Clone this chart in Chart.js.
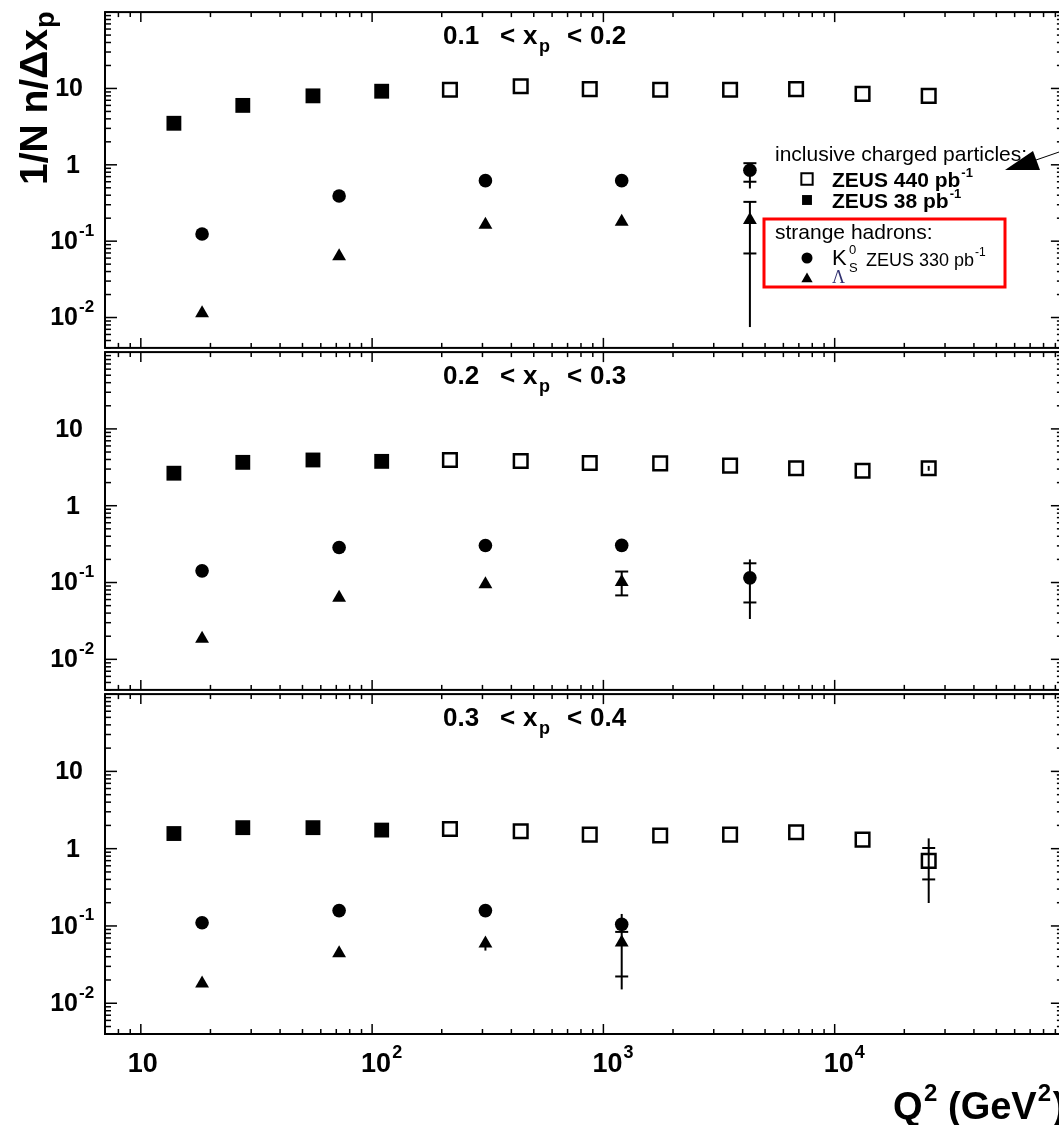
<!DOCTYPE html>
<html>
<head>
<meta charset="utf-8">
<script src="https://cdn.jsdelivr.net/npm/chart.js@4.4.1/dist/chart.umd.min.js"></script>
<style>
  html, body { margin: 0; padding: 0; background: #fff; overflow: hidden; }
  #wrap { position: relative; width: 1059px; height: 1125px; overflow: hidden; background: #fff; }
  canvas { position: absolute; left: 0; }
</style>
</head>
<body>
<div id="wrap">
  <canvas id="c1" width="1075" height="360" style="top:0px"></canvas>
  <canvas id="c2" width="1075" height="362" style="top:340px"></canvas>
  <canvas id="c3" width="1075" height="443" style="top:682px"></canvas>
</div>
<script>
// Q^2 bin centres in GeV^2
const q2Low = [13.9, 27.6, 55.5, 110];            // ZEUS 38 pb-1
const q2High = [217, 439, 873, 1760, 3530, 6810, 13200, 25500]; // ZEUS 440 pb-1
const q2Strange = [18.4, 72, 309, 1200, 4300];    // K0s / Lambda

// 0.1 < xp < 0.2
const chLow1 = [3.5, 6.0, 8.0, 9.2];
const chHigh1 = [9.6, 10.7, 9.8, 9.6, 9.6, 9.8, 8.5, 8.0];
const k0s1 = [0.124, 0.39, 0.62, 0.62, 0.85];
const lam1 = [0.0114, 0.0635, 0.164, 0.18, 0.19];

// 0.2 < xp < 0.3
const chLow2 = [2.65, 3.67, 3.94, 3.78];
const chHigh2 = [3.94, 3.83, 3.6, 3.56, 3.33, 3.08, 2.85, 3.08];
const k0s2 = [0.142, 0.286, 0.303, 0.305, 0.115];
const lam2 = [0.0186, 0.0635, 0.0948, 0.1017];

// 0.3 < xp < 0.4
const chLow3 = [1.57, 1.87, 1.87, 1.74];
const chHigh3 = [1.80, 1.68, 1.52, 1.48, 1.52, 1.63, 1.31, 0.695];
const k0s3 = [0.11, 0.158, 0.158, 0.105];
const lam3 = [0.018, 0.0442, 0.0593, 0.061];

// error bars: [totalLow, statLow, statHigh, totalHigh], caps at the stat ends
const k0sErr1 = [null, null, null, null, [0.49, 0.60, 1.05, 1.05]];
const lamErr1 = [null, null, null, [0.165, 0.18, 0.18, 0.2], [0.0075, 0.069, 0.327, 0.327]];
const highErr2 = [null, null, null, null, null, null, null, [2.85, 3.08, 3.08, 3.3]];
const k0sErr2 = [null, null, null, null, [0.0335, 0.055, 0.178, 0.2]];
const lamErr2 = [null, null, null, [0.068, 0.068, 0.139, 0.139]];
const highErr3 = [null, null, null, null, null, null, null, [0.198, 0.40, 1.02, 1.36]];
const lamErr3 = [null, null, [0.048, 0.0593, 0.0593, 0.0593], [0.0151, 0.0222, 0.0838, 0.143]];

// axis ranges and labelled ticks
const xMin = 7, xMax = 97000;
const yMin = 0.004, yMax = 100;
const xTickLabels = [[10, '10', ''], [100, '10', '2'], [1000, '10', '3'], [10000, '10', '4']];
const yTickLabels = [[10, '10', ''], [1, '1', ''], [0.1, '10', '-1'], [0.01, '10', '-2']];

const FONT = "'Liberation Sans', Arial, sans-serif";

function pts(xs, ys) {
  return ys.map((v, i) => ({x: xs[i], y: v}));
}

function logTicks(min, max) {
  let out = [];
  for (let d = Math.floor(Math.log10(min)); d <= Math.ceil(Math.log10(max)); d++) {
    for (let m = 1; m <= 9; m++) {
      let v = m * Math.pow(10, d);
      if (v >= min * 0.999 && v <= max * 1.001) out.push({v: v, major: m === 1});
    }
  }
  return out;
}

function line(ctx, x1, y1, x2, y2) {
  ctx.beginPath();
  ctx.moveTo(x1, y1);
  ctx.lineTo(x2, y2);
  ctx.stroke();
}

// text with an optional superscript, anchored by its right edge or centre
function supText(ctx, base, sup, x, y, size, supSize, align) {
  ctx.font = 'bold ' + size + 'px ' + FONT;
  let wb = ctx.measureText(base).width;
  let x0 = align === 'right' ? x - wb : x - wb / 2;
  ctx.textAlign = 'left';
  ctx.textBaseline = 'middle';
  ctx.fillText(base, x0, y);
  if (sup) {
    ctx.font = 'bold ' + supSize + 'px ' + FONT;
    ctx.fillText(sup, x0 + wb + 1, y - size * 0.45);
  }
}

function legendMark(ctx, style, r, x, y, filled) {
  ctx.save();
  ctx.fillStyle = filled ? '#000' : 'rgba(0,0,0,0)';
  ctx.strokeStyle = '#000';
  ctx.lineWidth = filled ? 0 : 2;
  Chart.helpers.drawPoint(ctx, {pointStyle: style, radius: r, borderWidth: filled ? 0 : 2, rotation: 0}, x, y);
  ctx.restore();
}

function drawLegend(ctx) {
  ctx.save();
  ctx.fillStyle = '#000';
  ctx.textAlign = 'left';
  ctx.textBaseline = 'alphabetic';
  ctx.font = '21px ' + FONT;
  ctx.fillText('inclusive charged particles:', 775, 161);
  legendMark(ctx, 'rect', 8, 807, 179, false);
  legendMark(ctx, 'rect', 7, 807, 200, true);
  ctx.font = 'bold 21px ' + FONT;
  ctx.fillText('ZEUS 440 pb', 832, 187);
  let w = ctx.measureText('ZEUS 440 pb').width;
  ctx.font = 'bold 13px ' + FONT;
  ctx.fillText('-1', 833 + w, 177);
  ctx.font = 'bold 21px ' + FONT;
  ctx.fillText('ZEUS 38 pb', 832, 208);
  w = ctx.measureText('ZEUS 38 pb').width;
  ctx.font = 'bold 13px ' + FONT;
  ctx.fillText('-1', 833 + w, 198);

  ctx.strokeStyle = '#ff0000';
  ctx.lineWidth = 3;
  ctx.strokeRect(764, 219, 241, 68);
  ctx.font = '21px ' + FONT;
  ctx.fillText('strange hadrons:', 775, 239);
  legendMark(ctx, 'circle', 5.5, 807, 258, true);
  legendMark(ctx, 'triangle', 6.5, 807, 279, true);
  ctx.font = '22px ' + FONT;
  ctx.fillText('K', 832, 265);
  ctx.font = '13px ' + FONT;
  ctx.fillText('0', 849, 254);
  ctx.fillText('S', 849, 272);
  ctx.font = '18px ' + FONT;
  ctx.fillText('ZEUS 330 pb', 866, 266);
  w = ctx.measureText('ZEUS 330 pb').width;
  ctx.font = '12px ' + FONT;
  ctx.fillText('-1', 867 + w, 256);
  ctx.fillStyle = '#303070';
  ctx.font = '18px ' + "'Liberation Serif', serif";
  ctx.fillText('\u039B', 832, 283);

  // arrow pointing into the legend
  ctx.fillStyle = '#000';
  ctx.strokeStyle = '#000';
  ctx.lineWidth = 1;
  line(ctx, 1036, 160, 1062, 151);
  ctx.beginPath();
  ctx.moveTo(1005, 170);
  ctx.lineTo(1040, 170);
  ctx.lineTo(1033, 151);
  ctx.closePath();
  ctx.fill();
  ctx.restore();
}

const rootFrame = {
  id: 'rootFrame',
  beforeDatasetsDraw(chart) {
    const ctx = chart.ctx, xs = chart.scales.x, ys = chart.scales.y;
    ctx.save();
    ctx.strokeStyle = '#000';
    ctx.lineWidth = 2;
    chart.data.datasets.forEach(ds => {
      if (!ds.errors) return;
      ds.errors.forEach((e, i) => {
        if (!e) return;
        const p = ds.data[i];
        const px = xs.getPixelForValue(p.x);
        line(ctx, px, ys.getPixelForValue(e[0]), px, ys.getPixelForValue(e[3]));
        [e[1], e[2]].forEach(v => {
          if (v === p.y) return;
          const py = ys.getPixelForValue(v);
          line(ctx, px - 6.5, py, px + 6.5, py);
        });
      });
    });
    ctx.restore();
  },
  afterDraw(chart, args, opts) {
    const ctx = chart.ctx, a = chart.chartArea;
    const xs = chart.scales.x, ys = chart.scales.y;
    ctx.save();
    ctx.strokeStyle = '#000';
    ctx.fillStyle = '#000';
    ctx.lineWidth = 1.5;
    logTicks(xMin, xMax).forEach(t => {
      const px = xs.getPixelForValue(t.v);
      const len = t.major ? 10 : 5;
      line(ctx, px, a.bottom, px, a.bottom - len);
      line(ctx, px, a.top, px, a.top + len);
    });
    logTicks(yMin, yMax).forEach(t => {
      const py = ys.getPixelForValue(t.v);
      const len = t.major ? 12 : 6;
      line(ctx, a.left, py, a.left + len, py);
      line(ctx, a.right, py, a.right - len, py);
    });
    ctx.lineWidth = 2;
    ctx.strokeRect(a.left, a.top, a.right - a.left, a.bottom - a.top);

    yTickLabels.forEach(t => {
      const py = ys.getPixelForValue(t[0]);
      const right = t[2] ? 78 : (t[1] === '1' ? 80 : 83);
      supText(ctx, t[1], t[2], right, py + 1, 25, 17, 'right');
    });

    if (opts.xLabels) {
      xTickLabels.forEach(t => {
        const px = xs.getPixelForValue(t[0]);
        supText(ctx, t[1], t[2], px + (t[2] ? 4 : 2), a.bottom + 31, 27, 18, 'center');
      });
      // axis title
      ctx.textAlign = 'left';
      ctx.textBaseline = 'alphabetic';
      ctx.font = 'bold 38px ' + FONT;
      ctx.fillText('Q', 893, a.bottom + 85);
      ctx.font = 'bold 24px ' + FONT;
      ctx.fillText('2', 924, a.bottom + 67);
      ctx.font = 'bold 38px ' + FONT;
      ctx.fillText('(GeV', 948, a.bottom + 85);
      let w = ctx.measureText('(GeV').width;
      ctx.font = 'bold 24px ' + FONT;
      ctx.fillText('2', 948 + w + 1, a.bottom + 67);
      ctx.font = 'bold 38px ' + FONT;
      ctx.fillText(')', 948 + w + 16, a.bottom + 85);
    }

    // bin title
    const ty = a.top + 25;
    ctx.textAlign = 'left';
    ctx.textBaseline = 'middle';
    ctx.font = 'bold 26px ' + FONT;
    ctx.fillText(opts.lo, 443, ty);
    ctx.fillText('<', 500, ty);
    ctx.fillText('x', 523, ty);
    ctx.fillText('<', 567, ty);
    ctx.fillText(opts.hi, 590, ty);
    ctx.font = 'bold 18px ' + FONT;
    ctx.fillText('p', 539, ty + 10);

    if (opts.yTitle) {
      ctx.save();
      ctx.translate(47, 185);
      ctx.rotate(-Math.PI / 2);
      ctx.textAlign = 'left';
      ctx.textBaseline = 'alphabetic';
      ctx.font = 'bold 39px ' + FONT;
      ctx.fillText('1/N n/\u0394x', 0, 0);
      const w = ctx.measureText('1/N n/\u0394x').width;
      ctx.font = 'bold 27px ' + FONT;
      ctx.fillText('p', w + 1, 7);
      ctx.restore();
    }
    if (opts.legend) drawLegend(ctx);
    ctx.restore();
  }
};

function makePanel(id, padTop, padBottom, sets, opts) {
  const datasets = [
    {data: pts(q2Low, sets.low), pointStyle: 'rect', pointRadius: 10.5,
     backgroundColor: '#000', borderColor: '#000', borderWidth: 0},
    {data: pts(q2High, sets.high), pointStyle: 'rect', pointRadius: 9.6,
     backgroundColor: 'rgba(0,0,0,0)', borderColor: '#000', borderWidth: 2.5, errors: sets.highErr},
    {data: pts(q2Strange, sets.k0s), pointStyle: 'circle', pointRadius: 6.8,
     backgroundColor: '#000', borderColor: '#000', borderWidth: 0, errors: sets.k0sErr},
    {data: pts(q2Strange, sets.lam), pointStyle: 'triangle', pointRadius: 8,
     backgroundColor: '#000', borderColor: '#000', borderWidth: 0, errors: sets.lamErr}
  ];
  datasets.forEach(d => { d.pointHoverRadius = d.pointRadius; d.showLine = false; });
  return new Chart(document.getElementById(id), {
    type: 'scatter',
    data: {datasets: datasets},
    options: {
      responsive: false,
      animation: false,
      events: [],
      layout: {padding: {left: 105, right: 9, top: padTop, bottom: padBottom}},
      scales: {
        x: {type: 'logarithmic', min: xMin, max: xMax, display: false},
        y: {type: 'logarithmic', min: yMin, max: yMax, display: false}
      },
      plugins: {
        legend: {display: false},
        tooltip: {enabled: false},
        rootFrame: opts
      }
    },
    plugins: [rootFrame]
  });
}

makePanel('c1', 8, 10,
  {low: chLow1, high: chHigh1, k0s: k0s1, lam: lam1, k0sErr: k0sErr1, lamErr: lamErr1},
  {lo: '0.1', hi: '0.2', yTitle: true, legend: true});
makePanel('c2', 10, 10,
  {low: chLow2, high: chHigh2, k0s: k0s2, lam: lam2, highErr: highErr2, k0sErr: k0sErr2, lamErr: lamErr2},
  {lo: '0.2', hi: '0.3'});
makePanel('c3', 10, 91,
  {low: chLow3, high: chHigh3, k0s: k0s3, lam: lam3, highErr: highErr3, lamErr: lamErr3},
  {lo: '0.3', hi: '0.4', xLabels: true});
</script>
</body>
</html>
